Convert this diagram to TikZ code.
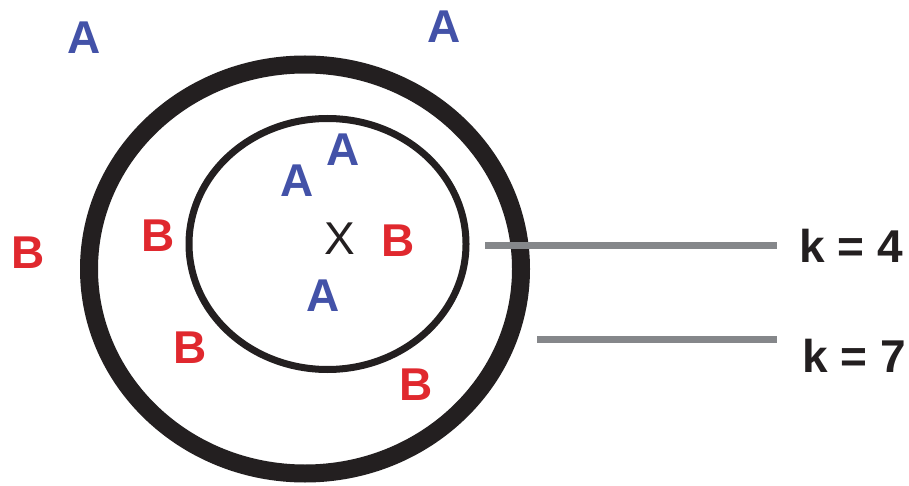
\documentclass[tikz,border=0pt]{standalone}
\usepackage{fontspec}
\setmainfont{Liberation Sans}
\definecolor{ptA}{HTML}{4352A8}
\definecolor{ptB}{HTML}{E0282E}
\definecolor{ringc}{HTML}{231F20}
\definecolor{leader}{HTML}{85878A}
\tikzset{
  lbl/.style={inner sep=0pt, anchor=center, font=\fontsize{46}{46}\selectfont\bfseries},
  classA/.style={lbl, text=ptA},
  classB/.style={lbl, text=ptB},
  query/.style={inner sep=0pt, anchor=center, font=\fontsize{46}{46}\selectfont, text=ringc},
  kname/.style={lbl, text=ringc},
  leaderline/.style={draw=leader, line width=7pt},
}
\begin{document}
\begin{tikzpicture}[x=1pt,y=-1pt]
  \useasboundingbox (0,0) rectangle (909,486);
  \fill[white] (0,0) rectangle (909,486);

  % neighbourhood rings
  \draw[ringc, line width=18pt] (305,269) ellipse [x radius=216, y radius=204.5];
  \draw[ringc, line width=7pt] (327.5,244) ellipse [x radius=138.5, y radius=125.5];

  % query point
  \node[query] (x) at (340,239) {X};

  % class A samples
  \node[classA] (a1) at (84,38) {A};
  \node[classA] (a2) at (444,27) {A};
  \node[classA] (a3) at (343,150) {A};
  \node[classA] (a4) at (297,181) {A};
  \node[classA] (a5) at (323,296) {A};

  % class B samples
  \node[classB] (b1) at (28,253) {B};
  \node[classB] (b2) at (158,236) {B};
  \node[classB] (b3) at (398,241) {B};
  \node[classB] (b4) at (190,348) {B};
  \node[classB] (b5) at (416,385) {B};

  % k labels with leader lines
  \node[kname] (k4) at (851,246) {k = 4};
  \node[kname] (k7) at (854,356) {k = 7};
  \coordinate (k4a) at (485,245);
  \coordinate (k4b) at (777,245);
  \coordinate (k7a) at (537,339);
  \coordinate (k7b) at (777,339);
  \draw[leaderline] (k4a) -- (k4b);
  \draw[leaderline] (k7a) -- (k7b);
\end{tikzpicture}
\end{document}
